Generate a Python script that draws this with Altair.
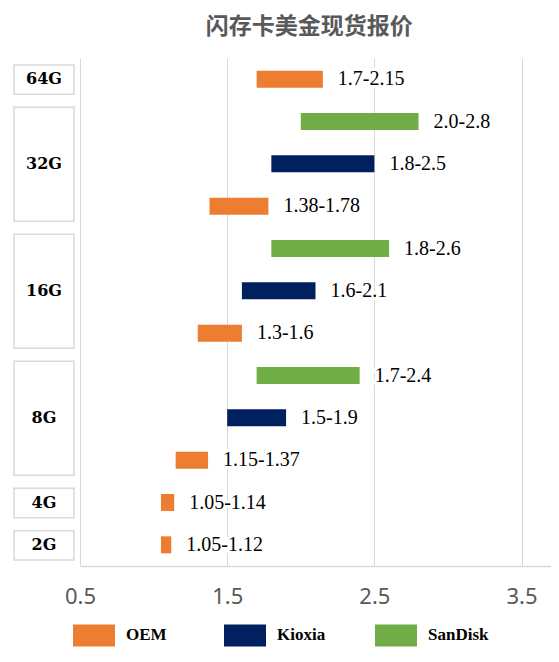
import altair as alt
import pandas as pd

# ---- data ----
sizes = ["64G", "32G", "32G", "32G", "16G", "16G", "16G", "8G", "8G", "8G", "4G", "2G"]
vendors = ["OEM", "SanDisk", "Kioxia", "OEM", "SanDisk", "Kioxia", "OEM",
           "SanDisk", "Kioxia", "OEM", "OEM", "OEM"]
low = [1.7, 2.0, 1.8, 1.38, 1.8, 1.6, 1.3, 1.7, 1.5, 1.15, 1.05, 1.05]
high = [2.15, 2.8, 2.5, 1.78, 2.6, 2.1, 1.6, 2.4, 1.9, 1.37, 1.14, 1.12]
labels = ["1.7-2.15", "2.0-2.8", "1.8-2.5", "1.38-1.78", "1.8-2.6", "1.6-2.1",
          "1.3-1.6", "1.7-2.4", "1.5-1.9", "1.15-1.37", "1.05-1.14", "1.05-1.12"]
series = ["OEM", "Kioxia", "SanDisk"]
colors = ["#ED7D31", "#002060", "#70AD47"]
ticks = [0.5, 1.5, 2.5, 3.5]
title_text = "闪存卡美金现货报价"

df = pd.DataFrame({"row": list(range(len(sizes))), "size": sizes, "vendor": vendors,
                   "low": low, "high": high, "label": labels})
groups = df.groupby("size", sort=False)["row"].agg(["min", "max"]).reset_index()
groups["top"] = groups["min"] - 0.5
groups["bottom"] = groups["max"] + 0.5
groups["mid"] = (groups["min"] + groups["max"]) / 2

H = 508
yscale = alt.Scale(domain=[-0.5, len(sizes) - 0.5], reverse=True, nice=False, zero=False,
                   padding=0)
xscale = alt.Scale(domain=[0.5, 3.7], nice=False, zero=False, padding=0)

base = alt.Chart(df)

bars = base.mark_bar(size=17, orient="horizontal").encode(
    x=alt.X("low:Q", scale=xscale,
            axis=alt.Axis(values=ticks, format=".1f", title=None, grid=True,
                          gridColor="#D9D9D9", gridWidth=1, domainColor="#D9D9D9",
                          domainWidth=1.5, ticks=False, labelFont="Noto Sans",
                          labelFontSize=22, labelColor="#595959", labelPadding=20,
                          labelFlush=False)),
    x2="high:Q",
    y=alt.Y("row:Q", scale=yscale, axis=None),
    color=alt.Color("vendor:N", scale=alt.Scale(domain=series, range=colors),
                    legend=alt.Legend(title=None, orient="none", legendX=2, legendY=565,
                                      direction="horizontal",
                                      symbolType="M-1.75,-0.92H1.75V0.92H-1.75Z",
                                      symbolSize=576, symbolStrokeWidth=0,
                                      symbolOpacity=1, labelFont="Liberation Serif",
                                      labelFontWeight="bold", labelFontSize=17,
                                      labelColor="black", labelOffset=20,
                                      columnPadding=37, gridAlign="all", padding=0)),
)

halo = base.mark_text(align="left", baseline="middle", dx=15, font="Liberation Serif",
                      fontSize=20, color="white", stroke="white", strokeWidth=6,
                      strokeJoin="round").encode(
    x=alt.X("high:Q", scale=xscale), y=alt.Y("row:Q", scale=yscale), text="label:N")

txt = base.mark_text(align="left", baseline="middle", dx=15, font="Liberation Serif",
                     fontSize=20, color="black").encode(
    x=alt.X("high:Q", scale=xscale), y=alt.Y("row:Q", scale=yscale), text="label:N")

right = alt.layer(bars, halo, txt).properties(width=471, height=H)

gbase = alt.Chart(groups)
boxes = gbase.mark_rect(fill="white", stroke="#D9D9D9", strokeWidth=1.5,
                        yOffset=7, y2Offset=-6).encode(
    x=alt.value(0), x2=alt.value(60),
    y=alt.Y("top:Q", scale=yscale, axis=None), y2="bottom:Q")
glabels = gbase.mark_text(font="DejaVu Serif", fontWeight="bold", fontSize=16,
                          color="black", baseline="middle", align="center").encode(
    x=alt.value(30), y=alt.Y("mid:Q", scale=yscale, axis=None), text="size:N")
left = alt.layer(boxes, glabels).properties(width=60, height=H)

chart = alt.hconcat(left, right, spacing=6, bounds="flush").properties(
    title=alt.Title(title_text, font="Noto Sans CJK SC", fontSize=23, fontWeight="bold",
                    color="#595959", anchor="middle", dx=27, offset=19),
    padding={"left": 5, "top": 8, "right": 0, "bottom": 2},
).resolve_legend(color="independent").configure_view(stroke=None)

chart.save("out.html", embed_options={"renderer": "svg", "actions": False})
